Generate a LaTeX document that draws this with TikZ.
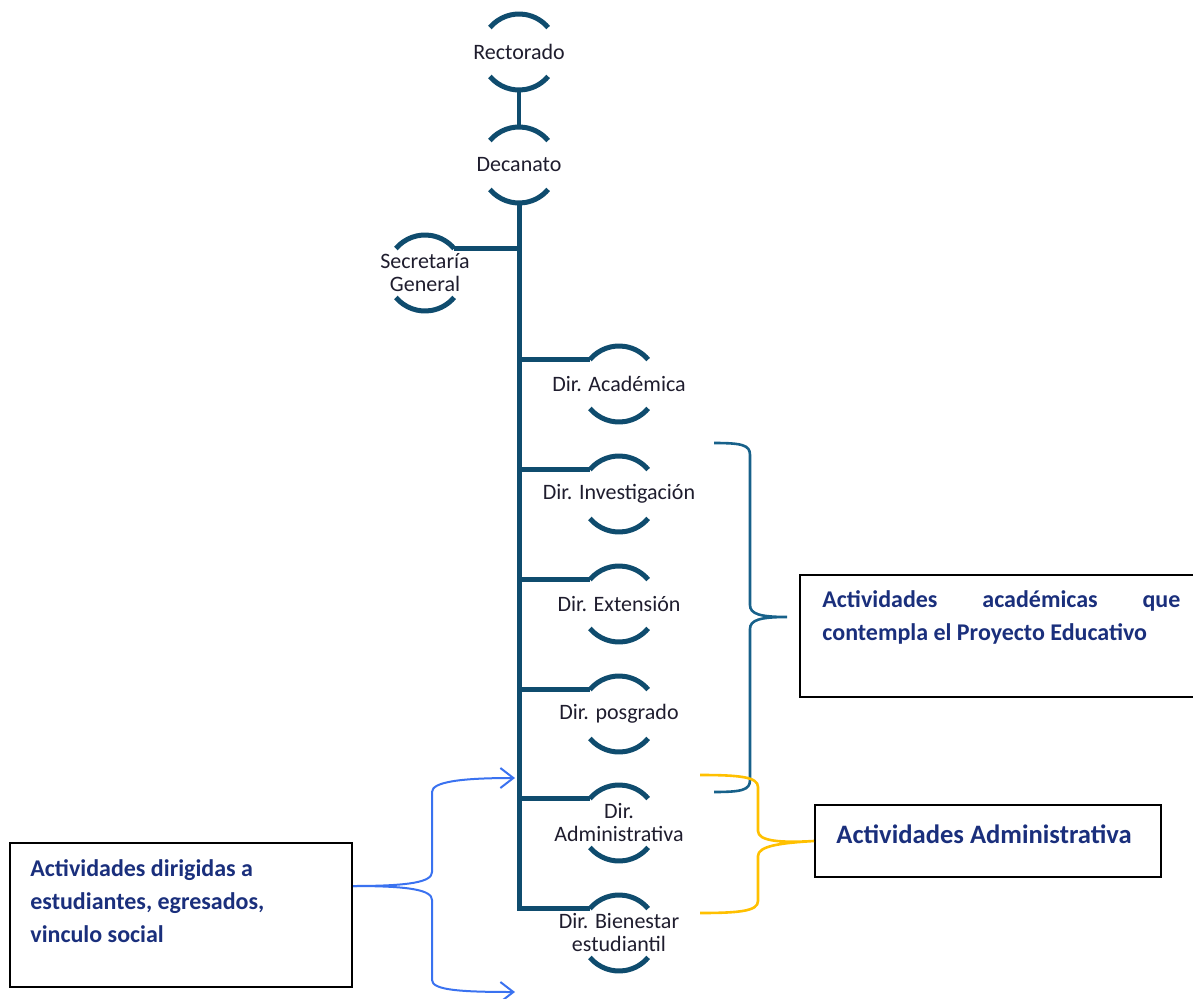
\documentclass[tikz,border=0pt]{standalone}
\usepackage{fontspec}
\setmainfont{Carlito}
\usetikzlibrary{arrows.meta}
\definecolor{petroleo}{HTML}{0F4C6E}
\definecolor{llave}{HTML}{17618A}
\definecolor{tinta}{HTML}{1F1D2E}
\definecolor{marino}{HTML}{1A2F7C}
\definecolor{azul}{HTML}{3A72F0}
\definecolor{oro}{HTML}{FFC000}
\hyphenpenalty=10000
\tolerance=10000
\tikzset{
  cargo/.style={align=center,text=tinta,font=\fontsize{11}{11.5}\selectfont,inner sep=0pt},
  arco/.style={petroleo,line width=2.5pt},
  rama/.style={petroleo,line width=2.5pt},
  caja/.style={draw=black,line width=1pt,inner sep=0pt},
  rotulo/.style={text=marino,font=\bfseries\fontsize{12}{16.5}\selectfont,inner sep=0pt},
}
\begin{document}
\begin{tikzpicture}[x=0.5pt,y=0.5pt]
\useasboundingbox (0,0) rectangle (1193,998);
\node[cargo] (rec) at (519,946) {Rectorado};
\node[cargo] (dec) at (519,833) {Decanato};
\node[cargo] (sec) at (425,725) {Secretaría\\General};
\node[cargo] (aca) at (619,614) {Dir. Académica};
\node[cargo] (inv) at (619,504) {Dir. Investigación};
\node[cargo] (ext) at (619,394) {Dir. Extensión};
\node[cargo] (pos) at (619,284) {Dir. posgrado};
\node[cargo] (adm) at (619,175) {Dir.\\Administrativa};
\node[cargo] (bie) at (619,65) {Dir. Bienestar\\estudiantil};
\foreach \n in {rec,dec,sec,aca,inv,ext,pos,adm,bie}{
  \draw[arco] ([shift={(140:38)}]\n.center) arc[start angle=140,end angle=40,radius=38];
  \draw[arco] ([shift={(220:38)}]\n.center) arc[start angle=220,end angle=320,radius=38];
  \coordinate (\n-n) at ([shift={(90:38)}]\n.center);
  \coordinate (\n-s) at ([shift={(270:38)}]\n.center);
  \coordinate (\n-w) at ([shift={(140:38)}]\n.center);
  \coordinate (\n-e) at ([shift={(40:38)}]\n.center);
}
\draw[rama,line width=2pt] (rec-s) -- (dec-n);
\draw[rama] (dec-s) |- (bie-w);
\draw[rama] (sec-e) -- (sec-e -| dec-s);
\foreach \n in {aca,inv,ext,pos,adm}
  \draw[rama] (\n-w) -- (\n-w -| dec-s);

\node[caja,minimum width=198.5pt,minimum height=61pt] (acad) at (998.5,362) {};
\node[rotulo,anchor=north west,text width=179pt,align=justify] (acadt) at (822,408) {Actividades académicas que contempla el Proyecto Educativo};
\node[caja,minimum width=173pt,minimum height=36pt] (admin) at (988,157) {};
\node[rotulo,font=\bfseries\fontsize{13.3}{16}\selectfont] (admint) at (984,164) {Actividades Administrativa};
\node[caja,minimum width=171pt,minimum height=72pt] (estud) at (181,83) {};
\node[rotulo,anchor=north west,align=left] (estudt) at (30,139) {Actividades dirigidas a\\estudiantes, egresados,\\vinculo social};

\coordinate (llA1) at (714,555);
\coordinate (llA2) at (714,206);
\coordinate (llAp) at (787,381);
\draw[llave,line width=1.3pt] (llA1) .. controls (742,555) and (750,553) .. (750,543) -- (750,393)
  .. controls (750,384) and (760,381) .. (llAp) .. controls (760,381) and (750,378) .. (750,369)
  -- (750,218) .. controls (750,208) and (742,206) .. (llA2);
\coordinate (llB1) at (700,223);
\coordinate (llB2) at (700,85);
\draw[oro,line width=1.3pt] (llB1) .. controls (740,223) and (758,221) .. (758,211) -- (758,167)
  .. controls (758,157) and (780,155) .. (admin.west) .. controls (780,155) and (758,152) .. (758,142)
  -- (758,97) .. controls (758,87) and (740,85) .. (llB2);

\coordinate (salida) at ([yshift=14.5pt]estud.east);
\coordinate (flA) at (515,220);
\coordinate (flB) at (515,6);
\draw[azul,line width=1pt,-{Straight Barb[length=6.5pt,width=10pt]}] (salida) .. controls (410,112) and (432,116) .. (432,126)
  -- (432,206) .. controls (432,216) and (460,220) .. (flA);
\draw[azul,line width=1pt,-{Straight Barb[length=6.5pt,width=10pt]}] (salida) .. controls (410,112) and (432,108) .. (432,98)
  -- (432,18) .. controls (432,8) and (460,6) .. (flB);
\end{tikzpicture}
\end{document}
